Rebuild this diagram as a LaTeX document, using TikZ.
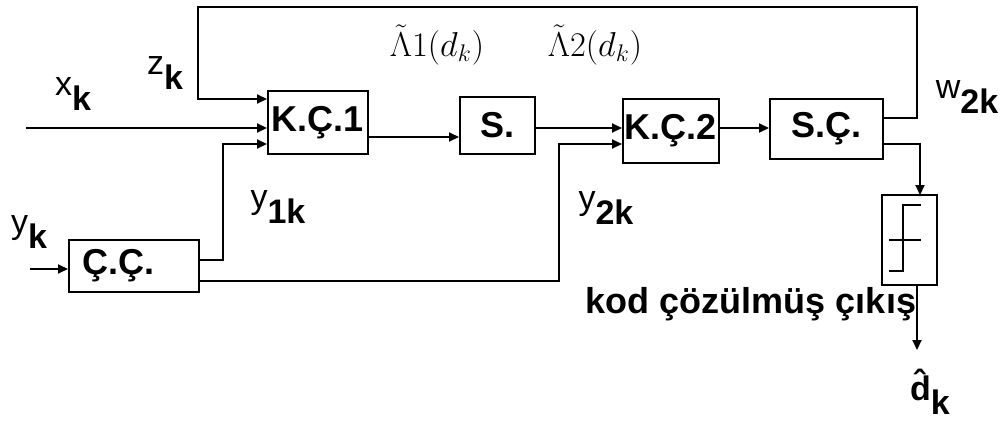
\documentclass[tikz,border=0pt]{standalone}
\usepackage{fontspec}
\setmainfont{Liberation Sans}
\usetikzlibrary{arrows.meta,positioning}

% lowered bold index, as the labels print it
\newcommand\altk[1]{\raisebox{-0.42em}{\bfseries #1}}

\begin{document}
\begin{tikzpicture}[x=0.5pt,y=-0.5pt,>={Triangle[length=5pt,width=4.5pt]},line width=1pt,
  blok/.style={draw,line width=1pt,inner sep=0pt,font=\fontsize{18}{20}\selectfont\bfseries},
  etiket/.style={inner sep=0pt,font=\fontsize{17}{20}\selectfont}]

  \useasboundingbox (0,0) rectangle (1002,428);

  % --- Blocks ---
  \node[blok,minimum width=50pt,minimum height=31.5pt]   (kc1)  at (318,122.5) {K.Ç.1};
  \node[blok,minimum width=37.5pt,minimum height=28.5pt] (s)    at (497.5,125.5) {S.};
  \node[blok,minimum width=48pt,minimum height=32pt]     (kc2)  at (671,131) {K.Ç.2};
  \node[blok,minimum width=56.5pt,minimum height=30pt]   (sc)   at (826.5,129) {S.Ç.};
  \node[blok,minimum height=26pt,inner xsep=7pt,text width=51pt,align=left]
                                                         (cc)   at (134,266) {Ç.Ç.};
  \draw (882,195) rectangle (937,285);
  \coordinate (esik) at (909.5,240);

  % threshold sign inside the last block
  \draw[line width=0.8pt] (889,271) -- (903,271) -- (903,205) -- (921,205);
  \draw[line width=0.8pt] (889,240) -- (921,240);

  % --- Free ends ---
  \coordinate (xgiris) at (26,128);
  \coordinate (ygiris) at (30,269);
  \coordinate (geri)   at (917,7);
  \coordinate (cikis)  at (917,350);

  % --- Connectors ---
  \draw[->] (xgiris) -- (kc1.west |- xgiris);
  \draw[->] (ygiris) -- (cc.west |- ygiris);
  \draw[->] (sc.east |- 0,118) -| (geri) -| (198,99) -- (kc1.west |- 0,99);
  \draw[->] (cc.east |- 0,260) -| (223,144) -- (kc1.west |- 0,144);
  \draw[->] (cc.east |- 0,281) -| (559,144) -- (kc2.west |- 0,144);
  \draw[->] (kc1.east |- 0,137) -- (s.west |- 0,137);
  \draw[->] (s.east |- 0,128) -- (kc2.west |- 0,128);
  \draw[->] (kc2.east |- 0,128) -- (sc.west |- 0,128);
  \draw[->] (sc.east |- 0,144) -| (920,195);
  \draw[->] (917,285) -- (cikis);

  % --- Labels ---
  \node[etiket] (lx)  at (73,94)   {x\altk{k}};
  \node[etiket] (lz)  at (165,73)  {z\altk{k}};
  \node[etiket] (ly)  at (29,232)  {y\altk{k}};
  \node[etiket] (ly1) at (278,207) {y\altk{1k}};
  \node[etiket] (ly2) at (606,208) {y\altk{2k}};
  \node[etiket] (lw)  at (967,97)  {w\altk{2k}};
  \node[etiket] (ld)  at (930,392) {\bfseries\^{d}\altk{k}};
  \node[etiket] (la1) at (437,45)  {$\tilde{\Lambda}1(d_k)$};
  \node[etiket] (la2) at (595,45)  {$\tilde{\Lambda}2(d_k)$};
  \node[etiket,font=\fontsize{18}{20}\selectfont\bfseries] (lkod) at (751,304) {kod çözülmüş çıkış};

\end{tikzpicture}
\end{document}
